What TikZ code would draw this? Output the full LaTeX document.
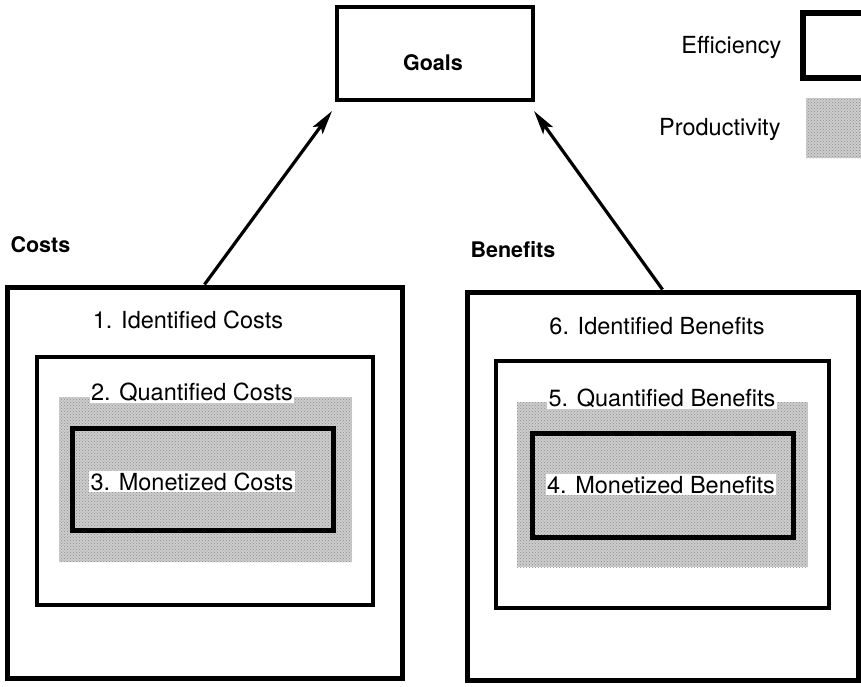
\documentclass[tikz,border=0pt]{standalone}
\usepackage{fontspec}
\setmainfont{TeX Gyre Heros}
\usetikzlibrary{arrows.meta, patterns}
\definecolor{dots}{RGB}{205, 205, 205}

\tikzset{
  frame/.style={draw, line width=#1, inner sep=0pt},
  frame/.default=5pt,
  dotted area/.style={inner sep=0pt, preaction={fill=dots}, pattern=crosshatch dots, pattern color=black!45},
  txt/.style={font=\fontsize{23.5}{28}\selectfont, anchor=base},
  head/.style={font=\bfseries\fontsize{21.5}{25}\selectfont, anchor=base},
  tag/.style={txt, fill=white, inner sep=1.5pt},
  goes to/.style={line width=3.2pt, -{Stealth[length=24pt, width=12pt, inset=5pt]}}
}

\begin{document}
\begin{tikzpicture}[x=1pt, y=-1pt]
  \useasboundingbox (0,0) rectangle (861,686);

  % goals and legend
  \node[frame=3.5pt, minimum width=196pt, minimum height=93pt] (goals) at (435,53.5) {};
  \node[head] at (433,70) {Goals};

  \node[txt, anchor=base east] (eff) at (785,53) {Efficiency};
  \node[txt, anchor=base east] (prod) at (784,135) {Productivity};
  \begin{scope}
    \clip (0,0) rectangle (861,686);
    \draw[line width=5.5pt] (803,13) rectangle (900,78);
    \path[dotted area] (806,98) rectangle (900,158);
  \end{scope}

  % costs side
  \node[head, anchor=base west] at (7,252) {Costs};
  \node[frame, minimum width=395pt, minimum height=391pt] (costs) at (204.5,482.5) {};
  \node[frame=3.5pt, minimum width=336pt, minimum height=248pt] (costsI) at (205,481) {};
  \node[dotted area, minimum width=293pt, minimum height=165pt] (costsQ) at (205.5,479.5) {};
  \node[frame, minimum width=261pt, minimum height=102pt] (costsM) at (202.5,479) {};
  \node[txt] at (188,328) {1. Identified Costs};
  \node[tag] at (192,400) {2. Quantified Costs};
  \node[tag] at (192,490) {3. Monetized Costs};

  % benefits side
  \node[head, anchor=base west] at (467,257) {Benefits};
  \node[frame, minimum width=391pt, minimum height=388pt] (benefits) at (662.5,486) {};
  \node[frame=3.5pt, minimum width=333pt, minimum height=247pt] (benefitsI) at (662.5,484.5) {};
  \node[dotted area, minimum width=291pt, minimum height=165pt] (benefitsQ) at (662.5,484.5) {};
  \node[frame, minimum width=261pt, minimum height=104pt] (benefitsM) at (662.5,485) {};
  \node[txt] at (657,334) {6. Identified Benefits};
  \node[tag] at (662,406) {5. Quantified Benefits};
  \node[tag] at (661,493) {4. Monetized Benefits};

  % arrows up to the goals
  \coordinate (tipL) at (332,111);
  \coordinate (tipR) at (534,111);
  \draw[goes to] (costs.north) -- (tipL);
  \draw[goes to] (benefits.north) -- (tipR);
\end{tikzpicture}
\end{document}
